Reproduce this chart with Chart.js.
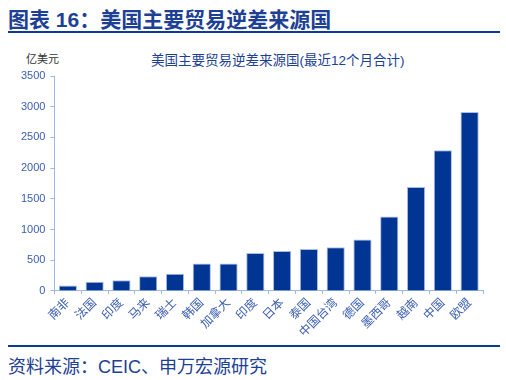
<!DOCTYPE html>
<html><head><meta charset="utf-8">
<script src="https://cdn.jsdelivr.net/npm/chart.js@4/dist/chart.umd.min.js"></script>
<style>
html,body{margin:0;padding:0;background:#fff;width:506px;height:380px;overflow:hidden;font-family:"Liberation Sans","Noto Sans CJK SC",sans-serif;}
#hdr{position:absolute;left:8px;top:3px;font-size:21px;font-weight:bold;color:#1d3f94;white-space:nowrap;}
#hl{position:absolute;left:8px;top:31px;width:492px;height:2px;background:#0a3a9a;}
#unit{position:absolute;left:26px;top:50px;font-size:11px;color:#333;}
#ttl{position:absolute;left:151px;top:49px;font-size:13.5px;color:#1d3f94;white-space:nowrap;}
#fl{position:absolute;left:8px;top:345px;width:492px;height:2px;background:#0a3a9a;}
#src{position:absolute;left:8px;top:352px;font-size:18px;color:#1d3f94;white-space:nowrap;}
#wrap{position:absolute;left:0;top:44px;width:506px;height:298px;}
</style></head>
<body>
<div id="hdr">图表 16：美国主要贸易逆差来源国</div>
<div id="hl"></div>
<div id="unit">亿美元</div>
<div id="ttl">美国主要贸易逆差来源国(最近12个月合计)</div>
<div id="wrap"><canvas id="c"></canvas></div>
<div id="fl"></div>
<div id="src">资料来源：CEIC、申万宏源研究</div>
<script>
const categories = ["南非","法国","印度","马来","瑞士","韩国","加拿大","印度","日本","泰国","中国台湾","德国","墨西哥","越南","中国","欧盟"];
const deficit = [87,147,175,240,280,447,447,617,650,682,709,835,1211,1690,2291,2913];
const yTicks = [0,500,1000,1500,2000,2500,3000,3500];

const fam = '"Liberation Sans","Noto Sans CJK SC",sans-serif';
new Chart(document.getElementById('c'), {
  type: 'bar',
  data: {
    labels: categories,
    datasets: [{
      data: deficit,
      backgroundColor: '#003594',
      borderColor: '#a9bde6',
      borderWidth: 1,
      categoryPercentage: 0.68,
      barPercentage: 1.0
    }]
  },
  options: {
    responsive: true,
    maintainAspectRatio: false,
    animation: false,
    layout: { padding: { left: 16, right: 23, top: 32, bottom: 0 } },
    plugins: {
      legend: { display: false },
      tooltip: { enabled: false },
      title: { display: false }
    },
    scales: {
      y: {
        min: 0, max: 3500,
        afterBuildTicks: (s) => { s.ticks = yTicks.map(v => ({ value: v })); },
        border: { color: '#9fb8e2', width: 1 },
        grid: { drawOnChartArea: false, drawTicks: true, tickLength: 4, color: '#9fb8e2' },
        ticks: { color: '#3a5db0', font: { size: 11, family: fam }, padding: 5, callback: (v) => String(v) }
      },
      x: {
        border: { color: '#9fb8e2', width: 1 },
        grid: { drawOnChartArea: false, drawTicks: true, tickLength: 3, color: '#9fb8e2', offset: true },
        ticks: { color: '#3a5db0', font: { size: 12, family: fam }, minRotation: 45, maxRotation: 45, padding: 2, autoSkip: false }
      }
    }
  }
});
</script>
</body></html>
